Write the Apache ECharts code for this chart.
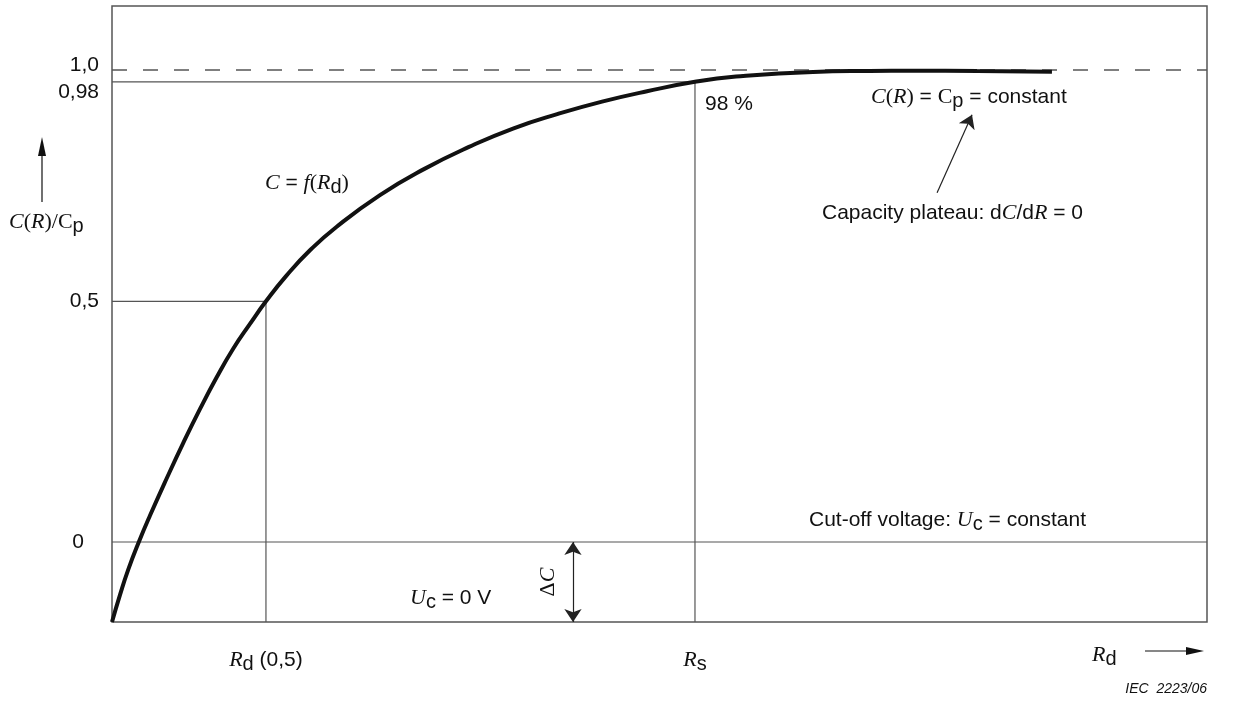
<!DOCTYPE html>
<html>
<head>
<meta charset="utf-8">
<script src="https://cdn.jsdelivr.net/npm/echarts@6/dist/echarts.min.js"></script>
<style>
  html, body { margin: 0; padding: 0; background: #fff; }
  #chart { width: 1235px; height: 702px; }
</style>
</head>
<body>
<div id="chart"></div>
<script>
// diagram units: x 0..100 across the frame, y in C(R)/Cp
const curveX = [0, 0.73, 1.49, 2.45, 3.47, 5.0, 6.51, 8.04, 9.56, 11.08, 12.6, 14.06, 15.95, 18.08, 20.52, 24.47, 28.49, 32.6, 36.62, 40.73, 44.75, 48.86, 53.24, 56.99, 64.02, 69.2, 73.15, 79.0, 85.84]
const curveY = [-0.1695, -0.112, -0.058, 0, 0.056, 0.135, 0.21, 0.282, 0.349, 0.41, 0.462, 0.51, 0.565, 0.618, 0.668, 0.735, 0.79, 0.837, 0.876, 0.907, 0.933, 0.955, 0.975, 0.986, 0.996, 0.998, 0.9985, 0.998, 0.9964]

const yLevels = [0, 0.51, 0.975, 1.0]
const yLevelLabels = ['{zero|0}', '0,5', '{dn|0,98}', '{up|1,0}']

const xMarks = [14.06, 53.24]
const xMarkLabels = ['{i|R}{sub|d} (0,5)', '{i|R}{sub|s}']

const rdHalfX = 14.06
const rsX = 53.24
const deltaCX = 42.1
const plateauArrow = [[75.35, 0.74], [78.54, 0.905]]

const yMin = -80 / 472
const yMax = 536 / 472

const serifI = { fontFamily: 'Liberation Serif', fontStyle: 'italic', fontSize: 22, fill: '#111', color: '#111' }
const serifR = { fontFamily: 'Liberation Serif', fontSize: 22, fill: '#111', color: '#111' }
const subS = { fontFamily: 'Liberation Sans', fontSize: 20, padding: [8, 0, 0, 0], fill: '#111', color: '#111' }
const rich = { i: serifI, r: serifR, sub: subS }

const refLine = (pts, extra) => ({
  type: 'line',
  data: pts,
  symbol: 'none',
  silent: true,
  lineStyle: Object.assign({ color: '#555', width: 1.2 }, extra || {}),
  z: 2
})

const txt = (x, y, text, extra) => Object.assign({
  type: 'text',
  x, y,
  style: {
    text,
    fontFamily: 'Liberation Sans',
    fontSize: 21,
    fill: '#111',
    align: 'left',
    verticalAlign: 'middle',
    rich
  }
}, extra || {})

const option = {
  animation: false,
  grid: {
    left: 112, top: 6, width: 1095, height: 616,
    show: true, borderColor: '#555', borderWidth: 1.5
  },
  xAxis: {
    type: 'value', min: 0, max: 100,
    axisLine: { show: false }, axisTick: { show: false }, splitLine: { show: false },
    axisLabel: {
      customValues: xMarks,
      margin: 24,
      fontFamily: 'Liberation Sans', fontSize: 21, color: '#111',
      formatter: (v) => xMarkLabels[xMarks.indexOf(v)] || '',
      rich: { i: serifI, sub: subS }
    }
  },
  yAxis: {
    type: 'value', min: yMin, max: yMax,
    axisLine: { show: false }, axisTick: { show: false }, splitLine: { show: false },
    axisLabel: {
      customValues: yLevels,
      margin: 13,
      fontFamily: 'Liberation Sans', fontSize: 21, color: '#111',
      formatter: (v) => yLevelLabels[yLevels.indexOf(v)] || '',
      rich: {
        zero: { fontSize: 21, padding: [0, 15, 0, 0] },
        dn: { fontSize: 21, padding: [20, 0, 0, 0] },
        up: { fontSize: 21, padding: [0, 0, 10, 0] }
      }
    }
  },
  series: [
    refLine([[0, 1.0], [100, 1.0]], { type: [15, 16], width: 1.5 }),
    refLine([[0, yLevels[2]], [rsX, yLevels[2]]]),
    refLine([[0, yLevels[1]], [rdHalfX, yLevels[1]]]),
    refLine([[0, 0], [100, 0]]),
    refLine([[rdHalfX, yMin], [rdHalfX, yLevels[1]]]),
    refLine([[rsX, yMin], [rsX, yLevels[2]]]),
    {
      type: 'lines',
      coordinateSystem: 'cartesian2d',
      silent: true,
      symbol: ['arrow', 'arrow'],
      symbolSize: 13,
      lineStyle: { color: '#222', width: 1.2, opacity: 1 },
      data: [{ coords: [[deltaCX, 0], [deltaCX, yMin]] }],
      z: 3
    },
    {
      type: 'lines',
      coordinateSystem: 'cartesian2d',
      silent: true,
      symbol: ['none', 'arrow'],
      symbolSize: 13,
      lineStyle: { color: '#222', width: 1.2, opacity: 1 },
      data: [{ coords: plateauArrow }],
      z: 3
    },
    {
      type: 'line',
      data: curveX.map((x, i) => [x, curveY[i]]),
      smooth: 0.5,
      showSymbol: false,
      symbol: 'none',
      silent: true,
      lineStyle: { color: '#111', width: 4, cap: 'butt' },
      z: 5
    }
  ],
  graphic: [
    txt(265, 183, '{i|C} = {i|f}{r|(}{i|R}{sub|d}{r|)}'),
    txt(705, 104, '98 %'),
    txt(871, 97, '{i|C}{r|(}{i|R}{r|)} = {r|C}{sub|p} = constant'),
    txt(822, 213, 'Capacity plateau: d{i|C}/d{i|R} = 0'),
    txt(809, 520, 'Cut-off voltage: {i|U}{sub|c} = constant'),
    txt(410, 598, '{i|U}{sub|c} = 0 V'),
    txt(548, 582, '', { rotation: Math.PI / 2, style: { text: '{r|Δ}{i|C}', fontFamily: 'Liberation Serif', fontSize: 22, fill: '#111', align: 'center', verticalAlign: 'middle', rich } }),
    txt(9, 222, '{i|C}{r|(}{i|R}{r|)/C}{sub|p}'),
    txt(1092, 655, '{i|R}{sub|d}'),
    txt(1207, 689, '', { style: { text: 'IEC  2223/06', fontFamily: 'Liberation Sans', fontStyle: 'italic', fontSize: 14, fill: '#111', align: 'right', verticalAlign: 'middle' } }),
    // y axis arrow
    { type: 'line', shape: { x1: 42, y1: 202, x2: 42, y2: 150 }, style: { stroke: '#111', lineWidth: 1.2 } },
    { type: 'polygon', shape: { points: [[42, 137], [46, 156], [38, 156]] }, style: { fill: '#111' } },
    // x axis arrow
    { type: 'line', shape: { x1: 1145, y1: 651, x2: 1190, y2: 651 }, style: { stroke: '#111', lineWidth: 1.2 } },
    { type: 'polygon', shape: { points: [[1204, 651], [1186, 647], [1186, 655]] }, style: { fill: '#111' } }
  ]
}

const chart = echarts.init(document.getElementById('chart'))
chart.setOption(option)
</script>
</body>
</html>
